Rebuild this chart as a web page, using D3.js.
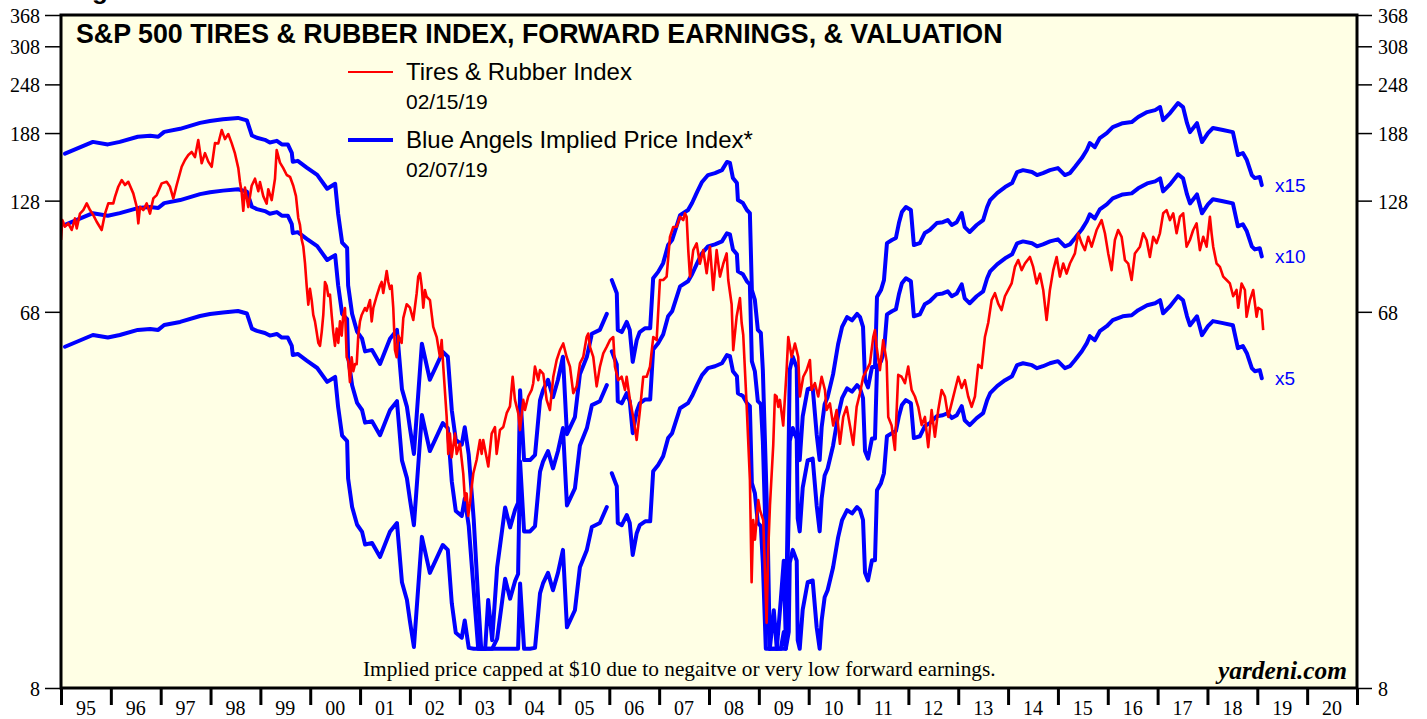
<!DOCTYPE html>
<html><head><meta charset="utf-8">
<script src="https://cdn.jsdelivr.net/npm/d3@7"></script>
<style>body{margin:0;background:#fff;} svg{display:block;}</style>
</head><body>
<svg id="chart" width="1427" height="719"></svg>
<script>
// ---------------- DATA ----------------
const yearTicks = d3.range(1995, 2022);
const yearLabels = ["95","96","97","98","99","00","01","02","03","04","05","06","07","08","09","10","11","12","13","14","15","16","17","18","19","20"];
const yTickValues = [8, 68, 128, 188, 248, 308, 368];
const multiples = [15, 10, 5];
const multipleLabels = ["x15", "x10", "x5"];
const priceCap = 10;
const titleText = "S&P 500 TIRES & RUBBER INDEX, FORWARD EARNINGS, & VALUATION";
const legendItems = [
  {name: "Tires & Rubber Index", date: "02/15/19"},
  {name: "Blue Angels Implied Price Index*", date: "02/07/19"}
];
const footnote = "Implied price capped at $10 due to negaitve or very low forward earnings.";
const source = "yardeni.com";

// forward earnings (weekly-ish readings); null = gap in the series
const forwardEarnings = [
[1995.08,11.15],[1995.64,11.92],[1995.94,11.75],[1996.18,11.92],[1996.54,12.27],[1996.79,12.34],[1996.95,12.27],[1997.07,12.62],[1997.39,12.84],[1997.79,13.28],[1997.99,13.43],[1998.25,13.55],[1998.55,13.66],[1998.73,13.47],[1998.83,12.36],[1998.93,12.20],[1999.09,12.06],[1999.19,11.88],[1999.33,11.99],[1999.43,11.75],[1999.55,11.75],[1999.63,11.20],[1999.65,10.64],[1999.75,10.70],[1999.93,10.30],[2000.14,9.88],[2000.34,9.13],[2000.50,9.39],[2000.56,7.91],[2000.64,6.72],[2000.74,6.52],[2000.76,5.27],[2000.84,4.48],[2000.94,4.05],[2001.04,3.89],[2001.10,3.62],[2001.24,3.65],[2001.40,3.37],[2001.60,3.89],[2001.74,4.09],[2001.84,2.92],[2001.94,2.64],[2002.00,2.34],[2002.08,2.02],[2002.24,3.78],[2002.40,3.08],[2002.66,3.61],[2002.76,3.51],[2002.84,2.59],[2002.92,2.19],[2003.04,2.13],[2003.10,2.35],[2003.18,2.01],[2003.28,1.39],[2003.37,0.88],[2003.43,0.5],[2003.51,0.5],[2003.57,0.88],[2003.65,0.70],[2003.75,1.06],[2003.85,1.31],[2003.91,1.49],[2004.01,1.33],[2004.11,1.47],[2004.17,1.53],[2004.21,2.90],[2004.29,1.95],[2004.41,1.95],[2004.51,2.01],[2004.61,2.74],[2004.67,2.90],[2004.77,3.08],[2004.87,2.79],[2004.97,3.08],[2005.07,3.51],[2005.15,2.26],[2005.31,2.49],[2005.41,3.18],[2005.55,3.51],[2005.65,4.00],[2005.81,4.09],[2005.95,4.48],[2006.00,null],
[2006.05,5.43],[2006.15,5.04],[2006.17,4.09],[2006.25,4.04],[2006.35,4.28],[2006.41,4.09],[2006.47,3.41],[2006.55,3.86],[2006.61,4.04],[2006.72,4.13],[2006.82,4.13],[2006.88,5.49],[2006.98,5.69],[2007.08,5.98],[2007.18,6.63],[2007.26,6.82],[2007.42,7.86],[2007.58,8.09],[2007.66,8.42],[2007.76,8.96],[2007.86,9.49],[2007.98,9.87],[2008.12,9.98],[2008.26,10.15],[2008.36,10.63],[2008.42,10.57],[2008.48,9.70],[2008.56,9.43],[2008.58,8.56],[2008.68,8.42],[2008.76,8.09],[2008.82,7.95],[2008.86,5.13],[2008.92,4.85],[2008.98,4.09],[2009.04,4.02],[2009.08,3.26],[2009.14,1.84],[2009.18,1.24],[2009.22,0.5],[2009.30,0.83],[2009.36,0.5],[2009.44,0.88],[2009.50,1.10],[2009.54,0.70],[2009.60,2.2],[2009.62,3.26],[2009.68,3.51],[2009.76,3.30],[2009.78,2.10],[2009.82,1.95],[2009.88,2.50],[2009.98,2.92],[2010.08,2.95],[2010.16,2.26],[2010.22,1.95],[2010.26,2.35],[2010.32,2.68],[2010.38,2.79],[2010.49,3.18],[2010.59,3.77],[2010.67,4.16],[2010.77,4.40],[2010.87,4.32],[2010.97,4.48],[2011.03,4.40],[2011.09,4.16],[2011.13,3.08],[2011.19,2.95],[2011.27,3.31],[2011.33,3.31],[2011.37,4.93],[2011.45,5.13],[2011.51,5.43],[2011.57,6.70],[2011.67,6.82],[2011.75,6.90],[2011.81,7.51],[2011.87,8.00],[2011.95,8.23],[2012.05,8.09],[2012.11,6.63],[2012.23,6.70],[2012.33,7.10],[2012.43,7.22],[2012.57,7.51],[2012.69,7.55],[2012.79,7.64],[2012.87,7.43],[2012.97,7.55],[2013.07,7.95],[2013.13,7.34],[2013.23,7.14],[2013.37,7.43],[2013.50,7.64],[2013.58,8.23],[2013.64,8.56],[2013.78,8.91],[2013.94,9.22],[2014.08,9.43],[2014.18,10.04],[2014.30,10.15],[2014.48,10.04],[2014.58,9.87],[2014.70,9.98],[2014.84,10.15],[2015.00,10.27],[2015.14,9.87],[2015.24,9.98],[2015.34,10.33],[2015.48,10.87],[2015.58,11.38],[2015.64,11.84],[2015.74,11.57],[2015.84,12.18],[2015.98,12.53],[2016.10,12.97],[2016.30,13.26],[2016.48,13.34],[2016.61,13.73],[2016.79,14.12],[2016.95,14.28],[2017.05,14.53],[2017.11,13.49],[2017.25,14.04],[2017.41,14.87],[2017.51,14.53],[2017.59,13.26],[2017.65,12.60],[2017.79,13.26],[2017.89,11.91],[2018.01,12.53],[2018.11,12.90],[2018.31,12.75],[2018.51,12.60],[2018.61,11.06],[2018.71,11.19],[2018.79,10.75],[2018.89,9.87],[2018.95,9.70],[2019.05,9.76],[2019.09,9.32]
];

// S&P 500 Tires & Rubber index
const tiresIndex = [
[1995.000,102.3],[1995.026,114.6],[1995.080,110.4],[1995.146,112.5],[1995.215,108.3],[1995.281,115.7],[1995.315,109.3],[1995.381,118.9],[1995.447,121.3],[1995.516,126.0],[1995.582,121.3],[1995.648,117.9],[1995.716,113.5],[1995.816,108.3],[1995.883,118.9],[1995.949,126.0],[1996.049,126.0],[1996.083,130.8],[1996.149,138.5],[1996.218,143.9],[1996.284,139.9],[1996.350,142.5],[1996.450,133.4],[1996.519,123.6],[1996.551,112.5],[1996.585,123.6],[1996.651,121.3],[1996.719,126.0],[1996.785,118.9],[1996.852,129.6],[1996.920,132.1],[1997.020,141.2],[1997.120,142.5],[1997.187,138.5],[1997.253,129.6],[1997.321,139.9],[1997.421,155.2],[1997.487,161.3],[1997.554,165.9],[1997.622,168.8],[1997.688,164.0],[1997.754,180.6],[1997.822,158.3],[1997.889,167.7],[1997.955,159.8],[1998.023,155.2],[1998.089,177.5],[1998.155,177.2],[1998.224,191.3],[1998.290,181.6],[1998.356,187.0],[1998.424,177.5],[1998.490,167.4],[1998.557,154.0],[1998.591,142.3],[1998.625,134.1],[1998.657,120.8],[1998.691,137.8],[1998.757,123.4],[1998.825,139.3],[1998.892,145.0],[1998.958,135.1],[1998.992,142.3],[1999.058,131.3],[1999.126,125.8],[1999.158,136.6],[1999.227,128.4],[1999.293,145.0],[1999.327,170.7],[1999.393,158.9],[1999.459,154.0],[1999.528,148.1],[1999.594,146.6],[1999.660,139.3],[1999.714,131.3],[1999.760,116.0],[1999.794,111.5],[1999.828,102.7],[1999.861,98.6],[1999.895,89.7],[1999.929,78.7],[1999.961,70.8],[1999.995,77.5],[2000.029,72.7],[2000.061,66.8],[2000.095,64.4],[2000.129,60.6],[2000.162,57.0],[2000.196,56.0],[2000.230,60.6],[2000.262,66.8],[2000.296,80.6],[2000.330,78.9],[2000.362,74.4],[2000.396,75.0],[2000.430,66.8],[2000.462,60.6],[2000.496,56.0],[2000.531,61.8],[2000.563,57.0],[2000.597,64.4],[2000.631,59.4],[2000.663,66.8],[2000.697,69.5],[2000.731,52.5],[2000.763,51.4],[2000.797,45.6],[2000.831,52.5],[2000.864,48.5],[2000.898,50.5],[2000.932,50.5],[2000.964,59.4],[2000.998,64.4],[2001.032,66.8],[2001.098,69.5],[2001.132,68.4],[2001.199,72.7],[2001.233,64.4],[2001.265,69.5],[2001.333,74.4],[2001.399,78.9],[2001.433,80.6],[2001.465,75.7],[2001.534,85.8],[2001.566,80.6],[2001.600,77.5],[2001.634,78.9],[2001.666,69.5],[2001.700,54.7],[2001.734,52.5],[2001.766,59.4],[2001.834,57.0],[2001.867,65.6],[2001.935,71.0],[2002.001,69.6],[2002.067,64.9],[2002.135,75.5],[2002.167,83.1],[2002.202,84.7],[2002.236,78.7],[2002.268,69.6],[2002.302,77.0],[2002.336,74.1],[2002.402,72.7],[2002.468,62.4],[2002.537,58.9],[2002.603,52.6],[2002.637,57.9],[2002.669,49.8],[2002.737,37.4],[2002.769,30.3],[2002.803,34.0],[2002.837,29.7],[2002.904,34.0],[2002.938,30.3],[2003.004,32.1],[2003.070,27.1],[2003.104,23.3],[2003.138,24.2],[2003.170,21.3],[2003.205,22.9],[2003.239,25.1],[2003.271,27.1],[2003.339,29.3],[2003.405,32.8],[2003.439,30.3],[2003.471,32.8],[2003.572,28.2],[2003.640,34.0],[2003.706,35.3],[2003.740,30.3],[2003.806,34.7],[2003.873,35.3],[2003.941,38.2],[2004.007,39.7],[2004.061,47.0],[2004.107,41.2],[2004.173,38.2],[2004.208,34.7],[2004.274,41.2],[2004.308,38.9],[2004.374,42.0],[2004.442,43.6],[2004.474,45.3],[2004.508,49.8],[2004.575,46.1],[2004.609,48.8],[2004.675,47.8],[2004.743,41.2],[2004.809,38.9],[2004.876,47.0],[2004.944,51.7],[2005.010,54.7],[2005.076,56.8],[2005.144,52.6],[2005.211,49.8],[2005.277,42.8],[2005.345,44.5],[2005.411,50.7],[2005.477,52.6],[2005.545,58.9],[2005.578,60.1],[2005.612,55.7],[2005.678,52.6],[2005.746,44.5],[2005.812,49.8],[2005.879,53.7],[2005.947,55.7],[2006.013,57.9],[2006.079,58.9],[2006.113,49.8],[2006.179,46.1],[2006.248,47.0],[2006.314,43.6],[2006.348,47.0],[2006.414,41.2],[2006.480,37.4],[2006.549,32.8],[2006.615,38.9],[2006.681,47.0],[2006.749,47.0],[2006.816,49.8],[2006.882,58.9],[2006.950,57.9],[2007.016,81.5],[2007.082,81.5],[2007.150,83.1],[2007.217,104.2],[2007.283,110.2],[2007.351,110.2],[2007.417,116.8],[2007.483,114.6],[2007.517,119.1],[2007.551,116.8],[2007.584,96.6],[2007.618,83.1],[2007.684,96.6],[2007.752,100.4],[2007.818,89.4],[2007.885,96.6],[2007.953,84.7],[2008.019,98.5],[2008.085,77.0],[2008.153,96.6],[2008.220,83.1],[2008.286,89.4],[2008.354,94.8],[2008.386,81.5],[2008.454,71.0],[2008.486,54.7],[2008.554,66.1],[2008.621,73.5],[2008.655,63.9],[2008.687,59.6],[2008.755,40.0],[2008.821,26.1],[2008.855,14.6],[2008.887,20.8],[2008.922,18.6],[2008.988,23.3],[2009.022,22.0],[2009.088,20.8],[2009.156,11.6],[2009.188,17.5],[2009.223,22.6],[2009.289,31.9],[2009.323,42.4],[2009.357,42.0],[2009.389,39.6],[2009.423,41.2],[2009.489,35.6],[2009.557,48.8],[2009.590,58.9],[2009.658,52.6],[2009.724,56.8],[2009.790,52.6],[2009.824,42.0],[2009.891,47.0],[2009.959,48.8],[2010.025,51.7],[2010.059,43.6],[2010.125,45.3],[2010.191,42.0],[2010.260,47.0],[2010.326,43.6],[2010.360,38.9],[2010.426,40.4],[2010.492,35.6],[2010.561,38.9],[2010.627,32.1],[2010.693,37.4],[2010.761,39.6],[2010.827,35.6],[2010.894,31.9],[2010.962,39.6],[2011.028,42.8],[2011.094,47.0],[2011.162,48.8],[2011.229,50.7],[2011.295,58.9],[2011.329,61.3],[2011.363,55.7],[2011.429,48.8],[2011.495,57.9],[2011.564,51.2],[2011.596,37.4],[2011.664,35.6],[2011.730,31.0],[2011.796,47.5],[2011.864,47.0],[2011.931,45.3],[2011.997,49.8],[2012.065,43.6],[2012.131,42.0],[2012.197,39.6],[2012.266,35.7],[2012.332,37.4],[2012.398,31.5],[2012.466,38.9],[2012.532,33.4],[2012.599,38.9],[2012.667,43.6],[2012.733,42.0],[2012.799,37.4],[2012.867,40.4],[2012.934,43.6],[2013.000,47.0],[2013.068,44.1],[2013.134,46.1],[2013.200,42.0],[2013.269,39.6],[2013.335,42.0],[2013.401,50.3],[2013.469,49.4],[2013.535,58.9],[2013.602,63.9],[2013.670,72.7],[2013.736,75.6],[2013.802,71.2],[2013.870,68.7],[2013.937,74.3],[2014.003,77.0],[2014.071,79.9],[2014.137,87.8],[2014.203,91.3],[2014.272,86.2],[2014.338,89.5],[2014.438,92.9],[2014.504,87.8],[2014.573,79.9],[2014.639,84.5],[2014.705,77.0],[2014.773,64.9],[2014.839,77.0],[2014.906,86.2],[2014.974,92.9],[2015.040,83.1],[2015.106,89.5],[2015.174,84.5],[2015.241,89.5],[2015.341,94.8],[2015.407,106.3],[2015.475,100.5],[2015.541,96.6],[2015.608,104.2],[2015.676,98.5],[2015.776,108.3],[2015.876,114.6],[2015.943,106.3],[2016.009,94.8],[2016.077,86.2],[2016.143,102.3],[2016.209,108.3],[2016.278,104.2],[2016.344,91.3],[2016.410,89.5],[2016.478,81.5],[2016.544,94.8],[2016.645,98.5],[2016.711,106.3],[2016.779,102.3],[2016.845,92.9],[2016.912,104.2],[2016.980,100.5],[2017.046,106.3],[2017.112,119.1],[2017.180,121.3],[2017.247,114.6],[2017.313,119.1],[2017.381,106.3],[2017.447,116.8],[2017.513,119.1],[2017.581,98.5],[2017.648,102.3],[2017.714,108.3],[2017.782,112.5],[2017.848,96.6],[2017.915,104.2],[2017.983,98.5],[2018.049,116.8],[2018.083,106.3],[2018.115,98.5],[2018.183,89.5],[2018.250,87.8],[2018.316,83.1],[2018.384,81.5],[2018.450,79.9],[2018.516,74.3],[2018.584,77.0],[2018.617,69.6],[2018.685,79.9],[2018.751,77.0],[2018.785,66.1],[2018.851,72.7],[2018.918,77.0],[2018.986,66.1],[2019.018,69.6],[2019.086,68.7],[2019.118,61.3]
];

// ---------------- CHART ----------------
const plot = {left: 61, right: 1357, top: 15, bottom: 688};
const SANS = "'Liberation Sans', Arial, Helvetica, sans-serif";
const SERIF = "'Liberation Serif', 'Times New Roman', Times, serif";
const RED = "#ff0000", BLUE = "#0000ff", BG = "#ffffe5";

const svg = d3.select("#chart");
const x = d3.scaleLinear().domain([1995, 2021]).range([plot.left, plot.right]);
const y = d3.scaleLog().domain([8, 368]).range([plot.bottom, plot.top]);

function fit(sel, target) {
  const n = sel.node();
  const w = n.getComputedTextLength();
  const fs = parseFloat(sel.attr("font-size"));
  if (w > 0) sel.attr("font-size", (fs * target / w).toFixed(2));
  return sel;
}

// cut-off heading fragment above the frame (as in the source image)
svg.append("text").attr("x", 92).attr("y", -1).attr("font-family", SANS)
  .attr("font-weight", "bold").attr("font-size", 26).attr("fill", "#000").text("g");

// plot background
svg.append("rect").attr("x", plot.left).attr("y", plot.top)
  .attr("width", plot.right - plot.left).attr("height", plot.bottom - plot.top)
  .attr("fill", BG);

svg.append("defs").append("clipPath").attr("id", "clip")
  .append("rect").attr("x", plot.left).attr("y", plot.top)
  .attr("width", plot.right - plot.left).attr("height", plot.bottom - plot.top);

const g = svg.append("g").attr("clip-path", "url(#clip)");

// blue implied price lines
const bluePts = forwardEarnings.map(d => ({t: d[0], e: d[1]}));
multiples.forEach((m) => {
  const line = d3.line()
    .defined(d => d.e !== null)
    .x(d => x(d.t))
    .y(d => y(Math.max(priceCap, d.e * m)));
  g.append("path").datum(bluePts).attr("d", line)
    .attr("fill", "none").attr("stroke", BLUE).attr("stroke-width", 4)
    .attr("stroke-linejoin", "round").attr("stroke-linecap", "round");
});

// red index line
const redLine = d3.line().x(d => x(d[0])).y(d => y(d[1]));
g.append("path").datum(tiresIndex).attr("d", redLine)
  .attr("fill", "none").attr("stroke", RED).attr("stroke-width", 2.6)
  .attr("stroke-linejoin", "round");

// multiple labels at line ends
const lastE = forwardEarnings[forwardEarnings.length - 1];
multiples.forEach((m, i) => {
  svg.append("text").attr("x", 1275).attr("y", y(Math.max(priceCap, lastE[1] * m)))
    .attr("dy", "0.35em").attr("font-family", SANS).attr("font-size", 19)
    .attr("fill", BLUE).text(multipleLabels[i]);
});

// frame
svg.append("rect").attr("x", plot.left).attr("y", plot.top)
  .attr("width", plot.right - plot.left).attr("height", plot.bottom - plot.top)
  .attr("fill", "none").attr("stroke", "#000").attr("stroke-width", 3);

// y axes
const yAxisL = d3.axisLeft(y).tickValues(yTickValues).tickFormat(d3.format("d")).tickSize(16).tickPadding(5);
const yAxisR = d3.axisRight(y).tickValues(yTickValues).tickFormat(d3.format("d")).tickSize(15).tickPadding(6);
[[yAxisL, plot.left], [yAxisR, plot.right]].forEach(([ax, px]) => {
  const ga = svg.append("g").attr("transform", `translate(${px},0)`).call(ax);
  ga.select(".domain").remove();
  ga.selectAll(".tick line").attr("stroke", "#000").attr("stroke-width", 1.5);
  ga.selectAll(".tick text").attr("font-family", SERIF).attr("font-size", 20)
    .attr("fill", "#000").attr("dy", "0.38em");
});

// x axis: year boundary ticks + centered labels
const xAxis = d3.axisBottom(x).tickValues(yearTicks).tickSize(17).tickFormat("");
const gx = svg.append("g").attr("transform", `translate(0,${plot.bottom})`).call(xAxis);
gx.select(".domain").remove();
gx.selectAll(".tick line").attr("stroke", "#000").attr("stroke-width", 3);
svg.append("g").selectAll("text").data(yearLabels).join("text")
  .attr("x", (d, i) => x(1995 + i + 0.5)).attr("y", 715)
  .attr("text-anchor", "middle").attr("font-family", SERIF).attr("font-size", 20)
  .attr("fill", "#000").text(d => d);

// title
fit(svg.append("text").attr("x", 76).attr("y", 43).attr("font-family", SANS)
  .attr("font-weight", "bold").attr("font-size", 24).attr("fill", "#000").text(titleText), 927);

// legend
const legY = [72, 140];
const legColors = [RED, BLUE];
const legWidths = [2.2, 4];
const legTextW = [226, 347];
legendItems.forEach((it, i) => {
  svg.append("line").attr("x1", 348).attr("x2", 393).attr("y1", legY[i]).attr("y2", legY[i])
    .attr("stroke", legColors[i]).attr("stroke-width", legWidths[i]);
  fit(svg.append("text").attr("x", 406).attr("y", legY[i] + 8).attr("font-family", SANS)
    .attr("font-size", 21).attr("fill", "#000").text(it.name), legTextW[i]);
  svg.append("text").attr("x", 406).attr("y", legY[i] + 37).attr("font-family", SANS)
    .attr("font-size", 21).attr("fill", "#000").text(it.date);
});

// footnote & source
fit(svg.append("text").attr("x", 363).attr("y", 676).attr("font-family", SERIF)
  .attr("font-size", 17).attr("fill", "#000").text(footnote), 633);
fit(svg.append("text").attr("x", 1347).attr("y", 679).attr("text-anchor", "end")
  .attr("font-family", SERIF).attr("font-weight", "bold").attr("font-style", "italic")
  .attr("font-size", 21).attr("fill", "#000").text(source), 129);
</script>
</body></html>
